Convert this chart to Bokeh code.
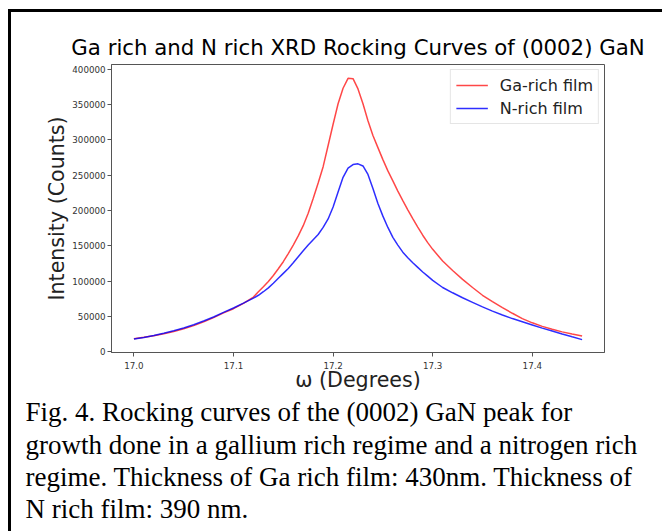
from bokeh.plotting import figure
from bokeh.models import (Range1d, FixedTicker, NumeralTickFormatter, Title,
                          ColumnDataSource, InlineStyleSheet)
from bokeh.embed import file_html
from bokeh.resources import INLINE

# ---- data ----
omega = [17.00, 17.01, 17.02, 17.03, 17.04, 17.05, 17.06, 17.07, 17.08, 17.09,
         17.10, 17.11, 17.12, 17.125, 17.13, 17.135, 17.14, 17.145, 17.15, 17.155,
         17.16, 17.165, 17.17, 17.175, 17.18, 17.185, 17.19, 17.195, 17.20, 17.205,
         17.21, 17.215, 17.22, 17.225, 17.23, 17.235, 17.24, 17.245, 17.25, 17.255,
         17.26, 17.265, 17.27, 17.275, 17.28, 17.285, 17.29, 17.295, 17.30, 17.31,
         17.32, 17.33, 17.34, 17.35, 17.36, 17.37, 17.38, 17.39, 17.40, 17.41,
         17.42, 17.43, 17.44, 17.45]

ga_rich = [18500, 20500, 22800, 25500, 28800, 32500, 37000, 42300, 48300, 55000,
           61000, 68500, 77500, 85000, 92000, 99500, 108000, 117500, 127500, 139000,
           151000, 164000, 178500, 196000, 217000, 239000, 262000, 292000, 322000, 351000,
           373000, 387000, 386500, 372000, 351000, 327000, 306000, 289000, 272000, 256000,
           242000, 227500, 214000, 201000, 188500, 176500, 165000, 154500, 145000, 128500,
           115000, 102500, 91000, 80000, 71000, 62500, 54500, 47000, 41000, 36000,
           32000, 28200, 25200, 22500]

n_rich = [18000, 20300, 23000, 26200, 29800, 33800, 38300, 43500, 49300, 55800,
          62000, 68800, 76000, 80000, 85000, 90500, 97000, 104000, 111000, 118000,
          126000, 134500, 143000, 151000, 158500, 166000, 176000, 188000, 205000, 226000,
          247000, 260000, 265000, 266000, 263000, 251000, 231000, 210000, 192000, 176000,
          162000, 151000, 141000, 133000, 126000, 119500, 113000, 107000, 101000, 91000,
          83500, 76500, 70000, 63500, 57500, 52000, 47000, 42500, 38000, 33500,
          29500, 25300, 21200, 17200]

x_ticks = [17.0, 17.1, 17.2, 17.3, 17.4]
y_ticks = [0, 50000, 100000, 150000, 200000, 250000, 300000, 350000, 400000]

title_text = "Ga rich and N rich XRD Rocking Curves of (0002) GaN"
x_label = "\u03c9 (Degrees)"
y_label = "Intensity (Counts)"
series_names = ["Ga-rich film", "N-rich film"]
caption_lines = [
    "Fig. 4. Rocking curves of the (0002) GaN peak for",
    "growth done in a gallium rich regime and a nitrogen rich",
    "regime. Thickness of Ga rich film: 430nm. Thickness of",
    "N rich film: 390 nm.",
]

W, H = 662, 531
src = ColumnDataSource(dict(x=omega, ga=ga_rich, n=n_rich))

p = figure(width=W, height=H, output_backend="svg", toolbar_location=None,
           x_range=Range1d(16.9775, 17.4725), y_range=Range1d(-1000, 406600),
           min_border_left=111, min_border_right=W - 604, min_border_top=64,
           min_border_bottom=H - 352)

# outer black frame of the figure box (only left and top edges are inside the window)
p.stylesheets = [InlineStyleSheet(css="""
:host { position: relative; }
:host::after {
  content: ""; position: absolute; left: 8px; top: 9px; right: 0px; bottom: 0px;
  border-left: 3px solid black; border-top: 3px solid black;
  pointer-events: none; z-index: 100;
}
""")]

p.title.text = title_text
p.title.align = "center"
p.title.text_font = "DejaVu Sans"
p.title.text_font_size = "21.3px"
p.title.text_font_style = "normal"
p.title.text_color = "black"
p.title.standoff = 10

p.line("x", "ga", source=src, color="#ff0000", line_alpha=0.72, line_width=1.5,
       legend_label=series_names[0])
p.line("x", "n", source=src, color="#0000ff", line_alpha=0.82, line_width=1.5,
       legend_label=series_names[1])

p.grid.visible = False
p.outline_line_color = "#555555"
p.outline_line_width = 1
p.background_fill_color = "white"
p.border_fill_color = "white"

for ax in (p.xaxis[0], p.yaxis[0]):
    ax.axis_line_color = "#555555"
    ax.major_tick_line_color = "#555555"
    ax.minor_tick_line_color = None
    ax.major_tick_in = 0
    ax.major_tick_out = 4
    ax.major_label_text_font = "DejaVu Sans"
    ax.major_label_text_font_size = "8.7px"
    ax.major_label_text_color = "#333333"
    ax.axis_label_text_font = "DejaVu Sans"
    ax.axis_label_text_font_size = "20.6px"
    ax.axis_label_text_font_style = "normal"
    ax.axis_label_text_color = "#222222"

p.xaxis[0].ticker = FixedTicker(ticks=x_ticks)
p.xaxis[0].formatter = NumeralTickFormatter(format="0.0")
p.xaxis[0].axis_label = x_label
p.xaxis[0].major_label_standoff = 5
p.xaxis[0].axis_label_standoff = -4

p.yaxis[0].ticker = FixedTicker(ticks=y_ticks)
p.yaxis[0].formatter = NumeralTickFormatter(format="0")
p.yaxis[0].axis_label = y_label
p.yaxis[0].major_label_standoff = 2
p.yaxis[0].axis_label_standoff = 0

lg = p.legend[0]
lg.location = "top_right"
lg.margin = 5
lg.padding = 5
lg.spacing = 3
lg.glyph_width = 32
lg.glyph_height = 20
lg.label_height = 20
lg.label_standoff = 12
lg.label_text_font = "DejaVu Sans"
lg.label_text_font_size = "16px"
lg.label_text_color = "#222222"
lg.border_line_color = "#cccccc"
lg.border_line_width = 1
lg.background_fill_alpha = 0.8

# caption below the chart, one Title per line
for i, line in enumerate(caption_lines):
    p.add_layout(Title(text=line, align="left", offset=25 - 111,
                       text_font="Liberation Serif", text_font_size="27px",
                       text_font_style="normal", text_color="black",
                       standoff=1 if i == 0 else 0), "below")

open("out.html", "w").write(file_html(p, INLINE))
